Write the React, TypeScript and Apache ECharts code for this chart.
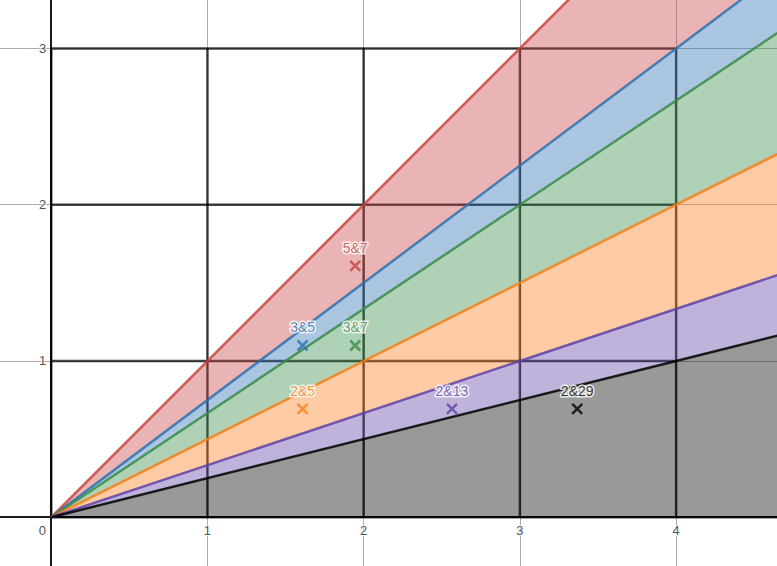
import React, { useEffect, useRef } from "react";
import * as echarts from "echarts";

// Boundary lines through the origin, each given by one point it passes through
const lineColors = ["#c74440", "#2d70b3", "#388c46", "#fa7e19", "#6042a6", "#000000"];
const lineThroughX = [3, 4, 3, 4, 3, 4];
const lineThroughY = [3, 3, 2, 2, 1, 1];

// Marked points
const pointLabels = ["5&7", "3&5", "3&7", "2&5", "2&13", "2&29"];
const pointX = [1.946, 1.609, 1.946, 1.609, 2.565, 3.367];
const pointY = [1.609, 1.099, 1.099, 0.693, 0.693, 0.693];
const pointColors = ["#c74440", "#2d70b3", "#388c46", "#fa7e19", "#6042a6", "#000000"];

// Dark grid block and axis ticks
const blockXs = [0, 1, 2, 3, 4];
const blockYs = [0, 1, 2, 3];
const xTickValues = [0, 1, 2, 3, 4];
const xTickLabels = ["0", "1", "2", "3", "4"];
const yTickValues = [1, 2, 3];
const yTickLabels = ["1", "2", "3"];

const X_MIN = -0.328;
const X_MAX = 4.646;
const Y_MIN = -0.312;
const Y_MAX = 3.31;
const FAR = 8;
const FONT = "'Liberation Sans', Arial, sans-serif";

export default function App() {
  const ref = useRef<HTMLDivElement>(null);
  useEffect(() => {
    document.body.style.margin = "0";
    if (!ref.current) return;
    const chart = echarts.init(ref.current, undefined, { renderer: "svg" });

    const bMaxX = blockXs[blockXs.length - 1];
    const bMaxY = blockYs[blockYs.length - 1];
    const segs: number[][] = [];
    blockXs.forEach((x) => segs.push([x, 0, x, bMaxY]));
    blockYs.forEach((y) => segs.push([0, y, y === 0 ? FAR : bMaxX, y]));

    const slopes = lineThroughY.map((y, i) => y / lineThroughX[i]);

    const axisCommon = {
      type: "value",
      minInterval: 1,
      maxInterval: 1,
      axisLine: { onZero: true, lineStyle: { color: "#1a1a1a", width: 2 } },
      axisTick: { show: false },
      axisLabel: { show: false },
      splitLine: {
        show: true,
        showMinLine: false,
        showMaxLine: false,
        lineStyle: { color: "rgba(0,0,0,0.32)", width: 1 },
      },
    };

    const labelStyle = {
      show: true,
      color: "#222",
      fontSize: 13,
      fontFamily: FONT,
      textBorderColor: "#fff",
      textBorderWidth: 2,
      formatter: (p: any) => p.name,
    };

    const option: any = {
      animation: false,
      grid: { left: 0, right: 0, top: 0, bottom: 0, containLabel: false, outerBoundsMode: "none" },
      xAxis: { ...axisCommon, min: X_MIN, max: X_MAX },
      yAxis: { ...axisCommon, min: Y_MIN, max: Y_MAX },
      series: [
        {
          type: "custom",
          z: 1,
          silent: true,
          data: segs,
          renderItem: (params: any, api: any) => {
            const a = api.coord([api.value(0), api.value(1)]);
            const b = api.coord([api.value(2), api.value(3)]);
            return {
              type: "line",
              shape: { x1: a[0], y1: a[1], x2: b[0], y2: b[1] },
              style: { stroke: "rgba(0,0,0,0.72)", lineWidth: 2.5 },
            };
          },
        },
        {
          type: "custom",
          z: 2,
          silent: true,
          data: lineColors.map((_, i) => [i]),
          renderItem: (params: any, api: any) => {
            const i = params.dataIndex;
            const su = slopes[i];
            const sl = i + 1 < slopes.length ? slopes[i + 1] : 0;
            const p0 = api.coord([0, 0]);
            const p1 = api.coord([FAR, su * FAR]);
            const p2 = api.coord([FAR, sl * FAR]);
            return {
              type: "polygon",
              shape: { points: [p0, p1, p2] },
              style: { fill: lineColors[i], opacity: 0.4 },
            };
          },
        },
        ...lineColors.map((c, i) => ({
          type: "line",
          z: 3,
          silent: true,
          symbol: "none",
          data: [
            [0, 0],
            [lineThroughX[i], lineThroughY[i]],
            [lineThroughX[i] * 2, lineThroughY[i] * 2],
          ],
          lineStyle: { color: c, width: 2.5, opacity: 0.85 },
        })),
        {
          type: "scatter",
          z: 5,
          silent: true,
          symbolSize: 0,
          data: xTickValues.map((v, i) => ({
            name: xTickLabels[i],
            value: [v, 0],
            label: v === 0 ? { offset: [-9, 0] } : {},
          })),
          label: { ...labelStyle, position: "bottom", distance: 7 },
        },
        {
          type: "scatter",
          z: 5,
          silent: true,
          symbolSize: 0,
          data: yTickValues.map((v, i) => ({ name: yTickLabels[i], value: [0, v] })),
          label: { ...labelStyle, position: "left", distance: 5 },
        },
        {
          type: "scatter",
          z: 6,
          symbol: "path://M0 0L10 10M10 0L0 10",
          symbolSize: 10,
          data: pointLabels.map((name, i) => ({
            name,
            value: [pointX[i], pointY[i]],
            itemStyle: { color: "rgba(0,0,0,0)", borderColor: pointColors[i], borderWidth: 2.5 },
            label: { color: pointColors[i] },
          })),
          label: {
            show: true,
            position: "top",
            distance: 5,
            formatter: (p: any) => p.name,
            fontSize: 14,
            fontFamily: FONT,
            textBorderColor: "#fff",
            textBorderWidth: 3,
          },
        },
      ],
    };
    chart.setOption(option);
    return () => chart.dispose();
  }, []);
  return <div ref={ref} style={{ width: 777, height: 566 }} />;
}
